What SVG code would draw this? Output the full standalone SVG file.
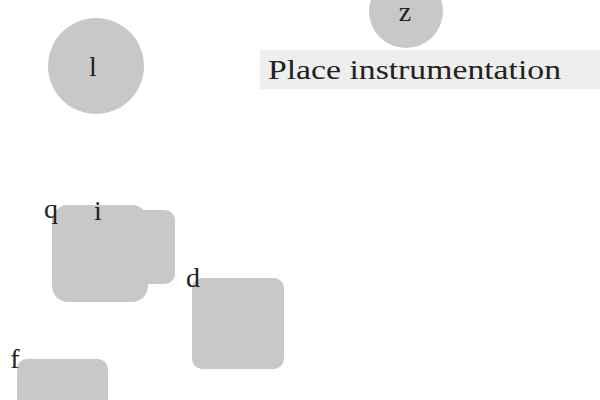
<svg xmlns="http://www.w3.org/2000/svg" width="600" height="400" viewBox="0 0 600 400">
<style>
.n{fill:#c8c8c8}
.t{font-family:"Liberation Serif","DejaVu Serif",serif;fill:#222;font-size:28px}
</style>
<rect width="600" height="400" fill="#fff"/>
<g id="connectors"></g>
<g id="node-l"><circle class="n" cx="96" cy="66" r="48"/><text class="t" x="93" y="76" text-anchor="middle">l</text></g>
<g id="node-z"><circle class="n" cx="406" cy="11" r="37"/><text class="t" x="405" y="21" text-anchor="middle">z</text></g>
<g id="label"><rect x="260" y="50" width="340" height="39" fill="#eeeeee"/><text class="t" x="268" y="79" font-size="26" textLength="293" lengthAdjust="spacingAndGlyphs">Place instrumentation</text></g>
<g id="node-q"><rect class="n" x="52" y="205" width="96" height="97" rx="16"/><text class="t" x="51" y="218" text-anchor="middle">q</text></g>
<g id="node-i"><rect class="n" x="98" y="210" width="77" height="74" rx="10"/><text class="t" x="98" y="220" text-anchor="middle">i</text></g>
<g id="node-d"><rect class="n" x="192" y="278" width="92" height="91" rx="10"/><text class="t" x="193" y="287" text-anchor="middle">d</text></g>
<g id="node-f"><rect class="n" x="17" y="359" width="91" height="60" rx="10"/><text class="t" x="15" y="368" text-anchor="middle">f</text></g>
</svg>
